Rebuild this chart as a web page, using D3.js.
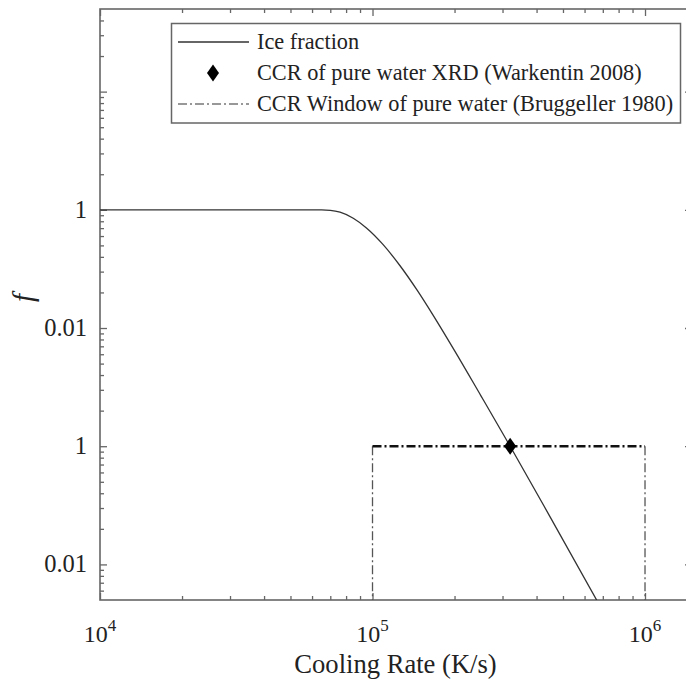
<!DOCTYPE html>
<html>
<head>
<meta charset="utf-8">
<script src="https://cdn.jsdelivr.net/npm/d3@7"></script>
<style>
  html, body { margin: 0; padding: 0; background: #fff; }
  svg { display: block; font-family: "Liberation Serif", "Times New Roman", serif; }
</style>
</head>
<body>
<svg id="chart" width="686" height="679"></svg>
<script>
// Ice fraction curve: cooling rate (K/s) vs fraction f
const coolingRates = [1e4, 3e4, 5e4, 6.5e4, 7e4, 7.6e4, 8.5e4, 9.5e4, 1.09e5, 1.26e5, 1.46e5, 1.67e5, 2.0e5, 2.5e5, 3.2e5, 4.5e5, 6.7e5];
const iceFraction  = [1, 1, 1, 0.998, 0.99, 0.954, 0.848, 0.702, 0.512, 0.338, 0.208, 0.128, 0.0644, 0.0267, 0.010, 0.00249, 0.000483];

// Critical cooling rate measured by XRD (Warkentin 2008)
const ccrRate = [3.2e5];
const ccrFraction = [0.01];

// CCR window of pure water (Bruggeller 1980)
const windowRates = [1e5, 1e6];
const windowFraction = 0.01;

// Axis ticks
const xMajorTicks = [1e4, 1e5, 1e6];
const xTickExponents = ["4", "5", "6"];
const yMajorTicks = [10, 1, 0.1, 0.01, 0.001];
const yTickLabels = ["", "1", "0.01", "1", "0.01"];

const legendLabels = [
  "Ice fraction",
  "CCR of pure water XRD (Warkentin 2008)",
  "CCR Window of pure water (Bruggeller 1980)"
];

const svg = d3.select("#chart");
const plotLeft = 100, plotRight = 693, plotTop = 9, plotBottom = 600;
const axisColor = "#666";
const textColor = "#222";

const x = d3.scaleLog().domain([1e4, 1.5e6]).range([plotLeft, plotRight]);
const y = d3.scaleLog().domain([5e-4, 50]).range([plotBottom, plotTop]);

svg.append("defs").append("clipPath").attr("id", "plot-clip")
  .append("rect").attr("x", plotLeft).attr("y", plotTop)
  .attr("width", plotRight - plotLeft).attr("height", plotBottom - plotTop);

// minor ticks between decades
function minorTicks(scale) {
  const [a, b] = scale.domain();
  const out = [];
  for (let e = Math.floor(Math.log10(a)); e <= Math.ceil(Math.log10(b)); e++) {
    for (let m = 2; m <= 9; m++) {
      const v = m * Math.pow(10, e);
      if (v > a && v < b) out.push(v);
    }
  }
  return out;
}
const xMinor = minorTicks(x);
const yMinor = minorTicks(y);

const gAxes = svg.append("g");
const dropDomain = sel => sel.selectAll("path.domain").remove();

// bottom axis (ticks point inward)
gAxes.append("g").attr("transform", `translate(0,${plotBottom})`)
  .call(d3.axisBottom(x).tickValues(xMajorTicks).tickSize(-7).tickFormat(""))
  .call(dropDomain);
gAxes.append("g").attr("transform", `translate(0,${plotBottom})`)
  .call(d3.axisBottom(x).tickValues(xMinor).tickSize(-4).tickFormat(""))
  .call(dropDomain);
// top axis
gAxes.append("g").attr("transform", `translate(0,${plotTop})`)
  .call(d3.axisTop(x).tickValues(xMajorTicks).tickSize(-7).tickFormat(""))
  .call(dropDomain);
gAxes.append("g").attr("transform", `translate(0,${plotTop})`)
  .call(d3.axisTop(x).tickValues(xMinor).tickSize(-4).tickFormat(""))
  .call(dropDomain);
// left axis
gAxes.append("g").attr("transform", `translate(${plotLeft},0)`)
  .call(d3.axisLeft(y).tickValues(yMajorTicks).tickSize(-7).tickFormat(""))
  .call(dropDomain);
gAxes.append("g").attr("transform", `translate(${plotLeft},0)`)
  .call(d3.axisLeft(y).tickValues(yMinor).tickSize(-4).tickFormat(""))
  .call(dropDomain);
// right axis
gAxes.append("g").attr("transform", `translate(${plotRight},0)`)
  .call(d3.axisRight(y).tickValues(yMajorTicks).tickSize(-8).tickFormat(""))
  .call(dropDomain);

gAxes.selectAll("line").attr("stroke", axisColor).attr("stroke-width", 1.3);

// frame
gAxes.append("rect")
  .attr("x", plotLeft).attr("y", plotTop)
  .attr("width", plotRight - plotLeft).attr("height", plotBottom - plotTop)
  .attr("fill", "none").attr("stroke", axisColor).attr("stroke-width", 1.6);

// y tick labels
svg.append("g").selectAll("text").data(yMajorTicks.map((v, i) => ({ v, t: yTickLabels[i] })))
  .join("text")
  .attr("x", plotLeft - 13).attr("y", d => y(d.v) + 8)
  .attr("text-anchor", "end").attr("font-size", 24.5).attr("fill", textColor)
  .text(d => d.t);

// x tick labels: 10 with superscript exponent
const xl = svg.append("g").selectAll("text").data(xMajorTicks.map((v, i) => ({ v, e: xTickExponents[i] })))
  .join("text")
  .attr("x", d => x(d.v)).attr("y", 642)
  .attr("text-anchor", "middle").attr("font-size", 24).attr("fill", textColor);
xl.append("tspan").text("10");
xl.append("tspan").attr("dy", -11).attr("font-size", 17).text(d => d.e);

// axis titles
svg.append("text")
  .attr("x", (plotLeft + plotRight) / 2 - 1).attr("y", 673)
  .attr("text-anchor", "middle").attr("font-size", 26.6).attr("fill", textColor)
  .text("Cooling Rate (K/s)");
// italic f, turned to read bottom-to-top
svg.append("g").attr("transform", "translate(33,298)")
  .append("text")
  .attr("transform", "rotate(-90)")
  .attr("text-anchor", "middle").attr("font-size", 29).attr("font-style", "italic").attr("fill", textColor)
  .text("f");

const plot = svg.append("g").attr("clip-path", "url(#plot-clip)");

// CCR window
const dashDot = "9,3,2,3";
plot.append("g").selectAll("line").data(windowRates).join("line")
  .attr("x1", d => x(d)).attr("x2", d => x(d))
  .attr("y1", y(windowFraction)).attr("y2", plotBottom)
  .attr("stroke", "#555").attr("stroke-width", 1.3).attr("stroke-dasharray", dashDot);
plot.append("line")
  .attr("x1", x(windowRates[0])).attr("x2", x(windowRates[1]))
  .attr("y1", y(windowFraction)).attr("y2", y(windowFraction))
  .attr("stroke", "#111").attr("stroke-width", 2.6).attr("stroke-dasharray", dashDot);

// ice fraction curve
const curveData = coolingRates.map((r, i) => [r, iceFraction[i]]);
plot.append("path").datum(curveData)
  .attr("fill", "none").attr("stroke", "#333").attr("stroke-width", 1.3)
  .attr("d", d3.line().x(d => x(d[0])).y(d => y(d[1])).curve(d3.curveMonotoneX));

// diamond marker
const diamond = (cx, cy) => `M${cx},${cy - 8.5}L${cx + 6},${cy}L${cx},${cy + 8.5}L${cx - 6},${cy}Z`;
plot.append("g").selectAll("path").data(ccrRate.map((r, i) => [r, ccrFraction[i]])).join("path")
  .attr("d", d => diamond(x(d[0]), y(d[1]))).attr("fill", "#000");

// legend
const lg = svg.append("g");
lg.append("rect").attr("x", 171.5).attr("y", 23.5).attr("width", 509).attr("height", 99.5)
  .attr("fill", "#fff").attr("stroke", axisColor).attr("stroke-width", 1.5);
const rowsY = [42, 73, 104];
lg.append("line").attr("x1", 178).attr("x2", 249).attr("y1", rowsY[0]).attr("y2", rowsY[0])
  .attr("stroke", "#333").attr("stroke-width", 1.3);
lg.append("path").attr("d", diamond(213, rowsY[1])).attr("fill", "#000");
lg.append("line").attr("x1", 178).attr("x2", 249).attr("y1", rowsY[2]).attr("y2", rowsY[2])
  .attr("stroke", "#777").attr("stroke-width", 1.3).attr("stroke-dasharray", dashDot);
lg.selectAll("text.lab").data(legendLabels).join("text")
  .attr("class", "lab")
  .attr("x", 257).attr("y", (d, i) => rowsY[i] + 7)
  .attr("font-size", 22.3).attr("fill", textColor)
  .text(d => d);
</script>
</body>
</html>
